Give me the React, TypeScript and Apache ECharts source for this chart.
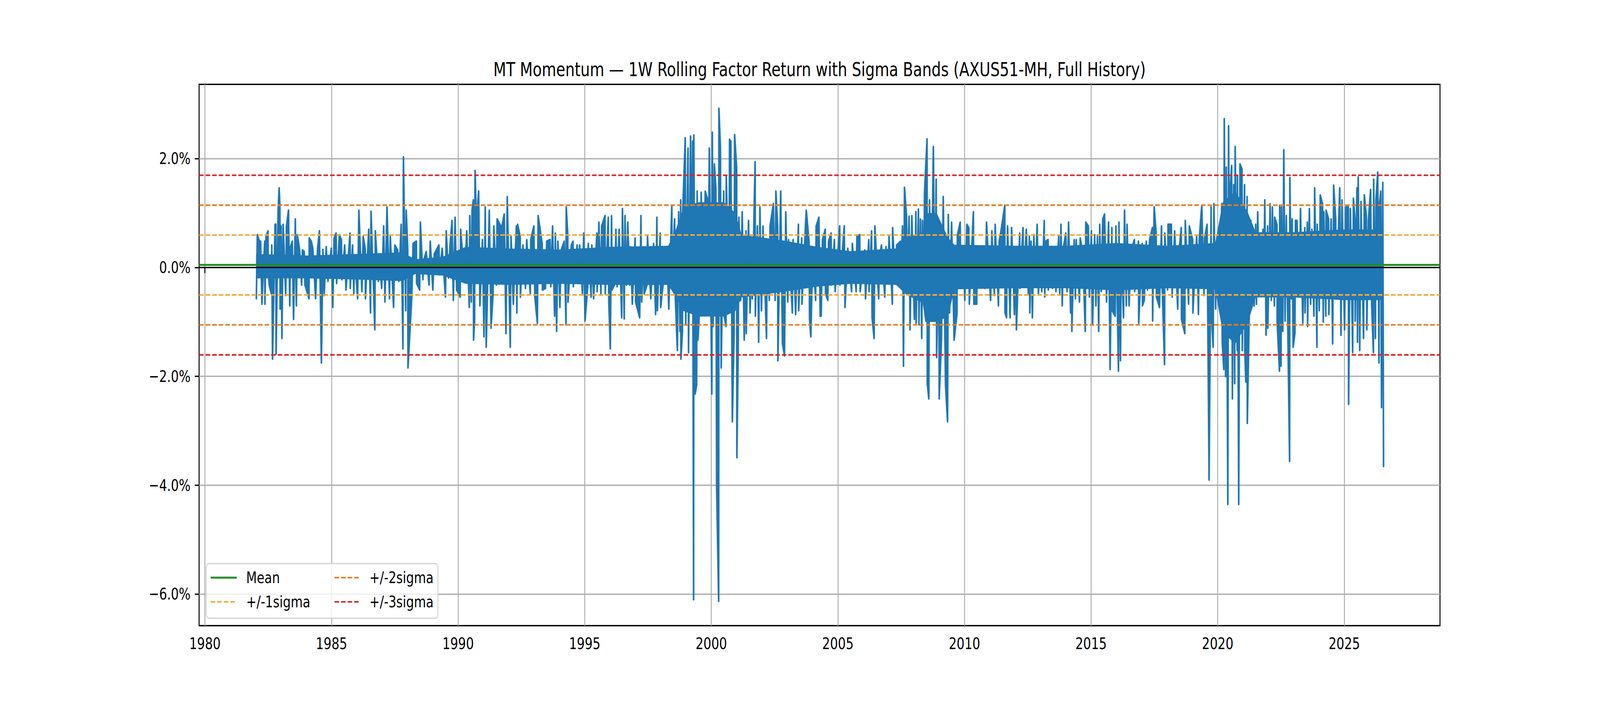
import React, { useEffect, useRef } from "react";
import * as echarts from "echarts";

// ---------- text ----------
const TITLE =
  "MT Momentum \u2014 1W Rolling Factor Return with Sigma Bands (AXUS51-MH, Full History)";
const SERIES_NAME = "1W Rolling Factor Return";
const LEGEND_LABELS = ["Mean", "+/-1sigma", "+/-2sigma", "+/-3sigma"];

// ---------- axes ----------
const X_TICKS = [1980, 1985, 1990, 1995, 2000, 2005, 2010, 2015, 2020, 2025];
const Y_TICKS = [-6, -4, -2, 0, 2];
const X_MIN = 1979.77;
const X_MAX = 2028.78;
const Y_MIN = -6.58;
const Y_MAX = 3.365;

// ---------- reference levels (%) ----------
const MEAN = 0.048;
const SIGMA1 = [0.597, -0.503];
const SIGMA2 = [1.145, -1.053];
const SIGMA3 = [1.695, -1.605];

// ---------- 1W rolling return: local highs / lows [year, %] ----------
const PEAKS_1982_1988 = [
  [1982.07, 0.6], [1982.15, 0.48], [1982.2, 0.48], [1982.36, 0.48], [1982.41, 0.57], [1982.49, 0.67],
  [1982.64, 0.41], [1982.77, 0.79], [1982.8, 0.79], [1982.89, 1.05], [1982.93, 1.46], [1982.96, 1.14],
  [1983.01, 0.76], [1983.09, 0.79], [1983.22, 0.76], [1983.3, 1.05], [1983.38, 0.38], [1983.45, 0.48],
  [1983.57, 0.89], [1983.65, 0.6], [1983.74, 0.32], [1983.85, 0.32], [1983.92, 0.29], [1984.12, 0.54],
  [1984.2, 0.48], [1984.26, 0.35], [1984.45, 0.35], [1984.52, 0.67], [1984.66, 0.33], [1984.79, 0.38],
  [1984.99, 0.35], [1985.1, 0.54], [1985.18, 0.63], [1985.31, 0.6], [1985.39, 0.51], [1985.52, 0.41],
  [1985.73, 0.63], [1985.83, 0.41], [1985.91, 0.22], [1986.08, 1.05], [1986.25, 0.57], [1986.33, 0.35],
  [1986.47, 0.7], [1986.56, 1.03], [1986.73, 0.67], [1986.88, 0.22], [1987.06, 0.76], [1987.19, 1.11],
  [1987.32, 0.57], [1987.5, 0.41], [1987.61, 0.32], [1987.75, 0.79], [1987.84, 2.03], [1987.95, 1.05],
];
const TROUGHS_1982_1988 = [
  [1982.03, -0.57], [1982.25, -0.67], [1982.37, -0.67], [1982.5, -0.1], [1982.54, -0.32], [1982.62, -0.48],
  [1982.67, -1.68], [1982.81, -1.59], [1982.97, -0.76], [1983.04, -1.3], [1983.19, -0.51], [1983.35, -0.7],
  [1983.5, -0.95], [1983.61, -0.7], [1983.82, -0.32], [1983.95, -0.32], [1984.11, -0.57], [1984.37, -0.57],
  [1984.6, -1.75], [1984.71, -0.51], [1984.86, -0.25], [1985.05, -0.73], [1985.2, -0.29], [1985.41, -0.22],
  [1985.57, -0.41], [1985.74, -0.38], [1985.88, -0.48], [1986.03, -0.57], [1986.2, -0.44], [1986.34, -0.57],
  [1986.54, -0.83], [1986.71, -1.14], [1986.85, -0.25], [1986.98, -0.38], [1987.11, -0.63], [1987.29, -0.57],
  [1987.45, -0.73], [1987.66, -0.25], [1987.82, -1.49], [1987.93, -0.79],
];

const PEAKS_1988_1996 = [
  [1988.01, 0.32], [1988.22, 0.44], [1988.35, 0.48], [1988.51, 0.83], [1988.64, 0.13], [1988.74, 0.29],
  [1988.9, 0.48], [1989.06, 0.25], [1989.24, 0.41], [1989.37, 0.35], [1989.53, 0.67], [1989.68, 0.41],
  [1989.76, 0.86], [1989.88, 0.92], [1990.1, 0.7], [1990.34, 0.67], [1990.46, 0.95], [1990.55, 1.05],
  [1990.6, 1.24], [1990.67, 1.78], [1990.72, 0.83], [1990.81, 1.4], [1990.96, 0.51], [1991.07, 1.11],
  [1991.23, 1.05], [1991.41, 0.76], [1991.54, 0.89], [1991.72, 0.73], [1991.82, 0.98], [1991.94, 1.3],
  [1992.09, 0.57], [1992.3, 0.76], [1992.35, 0.79], [1992.45, 0.57], [1992.56, 0.41], [1992.71, 0.51],
  [1992.87, 0.51], [1992.99, 0.76], [1993.16, 0.95], [1993.32, 0.44], [1993.5, 0.48], [1993.63, 0.51],
  [1993.73, 0.76], [1993.84, 0.63], [1993.94, 0.48], [1994.07, 0.32], [1994.19, 0.48], [1994.27, 1.11],
  [1994.33, 0.6], [1994.47, 0.41], [1994.54, 0.48], [1994.7, 0.41], [1994.8, 0.41], [1994.96, 0.63],
  [1995.14, 0.44], [1995.28, 0.41], [1995.48, 0.63], [1995.56, 0.83], [1995.67, 0.76], [1995.8, 0.95],
  [1995.93, 0.92], [1996.06, 0.95],
];
const TROUGHS_1988_1996 = [
  [1988.02, -1.84], [1988.17, -0.54], [1988.36, -0.29], [1988.48, -0.41], [1988.61, -0.22], [1988.85, -0.32],
  [1989.0, -0.41], [1989.27, -0.13], [1989.5, -0.54], [1989.62, -0.19], [1989.81, -0.6], [1989.94, -0.41],
  [1990.08, -0.54], [1990.26, -0.25], [1990.44, -0.73], [1990.52, -0.63], [1990.61, -1.33], [1990.65, -0.98],
  [1990.86, -0.7], [1991.02, -1.27], [1991.11, -1.46], [1991.3, -1.11], [1991.38, -0.48], [1991.51, -0.32],
  [1991.89, -1.21], [1992.06, -1.46], [1992.18, -0.67], [1992.32, -0.83], [1992.46, -0.54], [1992.66, -0.38],
  [1992.85, -0.48], [1993.03, -0.54], [1993.13, -1.02], [1993.33, -0.41], [1993.45, -0.38], [1993.66, -0.35],
  [1993.81, -0.89], [1993.89, -1.17], [1994.02, -0.73], [1994.26, -1.05], [1994.34, -0.63], [1994.55, -0.35],
  [1994.75, -0.29], [1994.91, -0.48], [1995.01, -0.98], [1995.12, -0.35], [1995.25, -0.54], [1995.35, -0.57],
  [1995.49, -0.44], [1995.64, -0.48], [1995.81, -0.48], [1995.95, -0.6], [1996.01, -1.49], [1996.08, -0.41],
];

const PEAKS_1996_2004 = [
  [1996.23, 0.7], [1996.36, 0.7], [1996.49, 1.08], [1996.59, 0.95], [1996.7, 0.83], [1996.8, 0.38],
  [1996.99, 0.54], [1997.22, 0.95], [1997.33, 0.29], [1997.48, 0.57], [1997.72, 0.44], [1997.85, 0.92],
  [1997.98, 0.63], [1998.14, 0.29], [1998.24, 0.38], [1998.44, 1.14], [1998.55, 0.89], [1998.71, 1.02],
  [1998.79, 1.24], [1998.87, 1.02], [1998.97, 2.38], [1999.08, 2.19], [1999.18, 2.41], [1999.26, 2.32],
  [1999.31, 2.43], [1999.44, 1.4], [1999.6, 1.38], [1999.76, 1.4], [1999.86, 1.24], [1999.92, 2.19],
  [2000.04, 2.48], [2000.12, 1.9], [2000.18, 1.46], [2000.3, 2.92], [2000.36, 2.19], [2000.49, 1.4],
  [2000.59, 1.68], [2000.72, 2.35], [2000.77, 2.32], [2000.92, 2.44], [2001.0, 1.84], [2001.09, 0.92],
  [2001.22, 1.02], [2001.37, 0.67], [2001.47, 0.86], [2001.61, 0.41], [2001.73, 1.94], [2001.82, 0.76],
  [2001.92, 1.11], [2002.04, 0.76], [2002.21, 0.48], [2002.32, 0.76], [2002.45, 1.17], [2002.55, 1.4],
  [2002.62, 0.76], [2002.74, 1.4], [2002.94, 1.02], [2003.05, 0.51], [2003.23, 0.51], [2003.44, 0.79],
  [2003.57, 0.54], [2003.72, 0.79], [2003.75, 1.05], [2003.86, 0.48], [2004.01, 0.32], [2004.14, 0.76],
  [2004.25, 0.92],
];
const TROUGHS_1996_2004 = [
  [1996.2, -0.29], [1996.28, -0.35], [1996.46, -0.92], [1996.56, -0.94], [1996.65, -0.32], [1996.78, -0.32],
  [1996.88, -0.67], [1997.01, -0.63], [1997.17, -0.92], [1997.25, -0.63], [1997.35, -0.48], [1997.46, -0.32],
  [1997.61, -0.57], [1997.8, -0.86], [1997.87, -0.79], [1998.0, -0.73], [1998.11, -0.25], [1998.32, -0.76],
  [1998.45, -0.13], [1998.58, -0.57], [1998.66, -1.52], [1998.76, -1.17], [1998.8, -1.68], [1998.86, -1.17],
  [1998.99, -1.05], [1999.1, -1.56], [1999.2, -0.7], [1999.3, -6.1], [1999.36, -2.32], [1999.42, -2.16],
  [1999.47, -1.33], [1999.57, -0.48], [1999.7, -0.48], [1999.88, -0.63], [2000.02, -2.32], [2000.07, -1.08],
  [2000.21, -4.03], [2000.29, -6.13], [2000.39, -1.84], [2000.5, -0.86], [2000.58, -1.08], [2000.7, -0.63],
  [2000.83, -2.83], [2000.9, -1.21], [2001.01, -3.49], [2001.06, -1.56], [2001.16, -0.6], [2001.3, -1.33],
  [2001.38, -1.21], [2001.53, -0.83], [2001.62, -0.57], [2001.74, -0.89], [2001.87, -1.37], [2001.98, -0.79],
  [2002.18, -1.3], [2002.29, -0.6], [2002.52, -0.6], [2002.63, -1.71], [2002.81, -1.4], [2002.89, -1.62],
  [2003.02, -0.63], [2003.2, -0.83], [2003.33, -0.86], [2003.45, -0.79], [2003.58, -0.67], [2003.88, -0.95],
  [2003.93, -1.27], [2004.12, -0.6], [2004.3, -0.89],
];

const PEAKS_2004_2012 = [
  [2004.39, 0.51], [2004.5, 0.7], [2004.63, 0.48], [2004.73, 0.63], [2004.86, 0.51], [2005.07, 0.76],
  [2005.25, 0.76], [2005.39, 0.35], [2005.57, 0.44], [2005.75, 0.57], [2005.86, 0.6], [2006.06, 0.32],
  [2006.22, 0.51], [2006.33, 0.67], [2006.46, 0.76], [2006.64, 0.19], [2006.72, 0.41], [2006.9, 0.38],
  [2007.02, 0.57], [2007.16, 0.73], [2007.32, 0.41], [2007.47, 0.48], [2007.55, 0.76], [2007.63, 1.47],
  [2007.71, 0.95], [2007.81, 0.94], [2007.92, 0.95], [2008.08, 1.02], [2008.18, 1.07], [2008.26, 0.89],
  [2008.34, 0.86], [2008.42, 1.37], [2008.52, 2.36], [2008.62, 1.24], [2008.77, 2.22], [2008.88, 1.62],
  [2008.99, 0.44], [2009.16, 1.3], [2009.36, 0.97], [2009.49, 0.83], [2009.72, 0.6], [2009.83, 0.83],
  [2009.96, 0.19], [2010.09, 0.79], [2010.17, 0.73], [2010.35, 1.02], [2010.51, 0.25], [2010.64, 0.35],
  [2010.87, 0.83], [2011.08, 0.67], [2011.21, 0.79], [2011.37, 0.48], [2011.45, 0.7], [2011.59, 1.14],
  [2011.7, 0.76], [2011.86, 0.73], [2012.02, 0.32], [2012.18, 0.63], [2012.31, 0.73], [2012.44, 0.7],
];
const TROUGHS_2004_2012 = [
  [2004.34, -0.89], [2004.51, -0.48], [2004.6, -0.6], [2004.74, -0.32], [2004.89, -0.44], [2005.08, -0.32],
  [2005.28, -0.73], [2005.54, -0.44], [2005.72, -0.44], [2005.88, -0.44], [2006.09, -0.57], [2006.23, -0.44],
  [2006.35, -0.92], [2006.43, -1.3], [2006.61, -0.57], [2006.85, -0.54], [2006.98, -0.1], [2007.15, -0.67],
  [2007.27, -0.29], [2007.48, -0.29], [2007.59, -1.81], [2007.74, -0.25], [2007.85, -1.14], [2008.02, -0.95],
  [2008.09, -1.02], [2008.2, -1.05], [2008.31, -1.3], [2008.39, -0.7], [2008.53, -2.13], [2008.59, -2.41],
  [2008.68, -0.95], [2008.83, -0.98], [2008.9, -1.65], [2009.0, -2.41], [2009.09, -1.33], [2009.25, -2.16],
  [2009.33, -2.83], [2009.41, -0.83], [2009.59, -1.33], [2009.7, -0.86], [2009.85, -0.38], [2010.01, -0.6],
  [2010.19, -0.67], [2010.37, -0.67], [2010.48, -0.67], [2010.66, -0.35], [2010.82, -0.38], [2011.03, -0.6],
  [2011.18, -0.51], [2011.34, -0.7], [2011.6, -0.83], [2011.66, -0.92], [2011.8, -0.92], [2011.97, -0.86],
  [2012.05, -1.14], [2012.19, -0.38], [2012.33, -0.32], [2012.52, -0.48],
];

const PEAKS_2012_2020 = [
  [2012.56, 0.57], [2012.63, 0.48], [2012.74, 0.6], [2012.87, 0.79], [2013.0, 0.25], [2013.15, 0.86],
  [2013.21, 0.48], [2013.3, 0.51], [2013.44, 0.38], [2013.6, 0.38], [2013.72, 0.57], [2013.81, 0.79],
  [2013.91, 0.38], [2014.0, 0.63], [2014.11, 0.83], [2014.23, 0.32], [2014.33, 0.51], [2014.41, 0.51],
  [2014.57, 0.54], [2014.67, 0.25], [2014.79, 0.83], [2014.89, 0.76], [2015.01, 0.67], [2015.14, 0.6],
  [2015.25, 0.57], [2015.34, 0.79], [2015.46, 0.89], [2015.53, 0.98], [2015.69, 0.83], [2015.82, 0.73],
  [2015.98, 0.76], [2016.1, 0.83], [2016.19, 0.32], [2016.32, 1.05], [2016.42, 0.79], [2016.58, 0.32],
  [2016.71, 0.51], [2016.87, 0.48], [2017.02, 0.44], [2017.18, 0.48], [2017.31, 0.51], [2017.42, 0.73],
  [2017.49, 1.11], [2017.57, 0.63], [2017.78, 0.76], [2017.91, 0.63], [2018.04, 0.79], [2018.17, 0.79],
  [2018.3, 0.67], [2018.46, 0.25], [2018.56, 0.73], [2018.72, 0.86], [2018.88, 0.76], [2019.01, 0.51],
  [2019.17, 0.57], [2019.27, 0.51], [2019.37, 1.14], [2019.48, 0.54], [2019.58, 0.79], [2019.74, 1.11],
  [2019.85, 1.17], [2019.94, 0.13], [2020.05, 0.67], [2020.16, 1.17], [2020.26, 2.73], [2020.34, 1.84],
  [2020.43, 2.6], [2020.5, 1.49], [2020.55, 1.87], [2020.63, 1.52], [2020.69, 2.22],
];
const TROUGHS_2012_2020 = [
  [2012.58, -0.83], [2012.68, -0.92], [2012.79, -0.29], [2012.92, -0.48], [2013.05, -0.44], [2013.17, -0.54],
  [2013.31, -0.41], [2013.47, -0.38], [2013.61, -0.44], [2013.76, -0.48], [2013.86, -0.7], [2014.05, -0.44],
  [2014.19, -0.83], [2014.24, -1.17], [2014.38, -0.57], [2014.54, -0.63], [2014.77, -1.17], [2014.93, -0.54],
  [2015.06, -1.05], [2015.19, -0.7], [2015.3, -1.17], [2015.4, -0.44], [2015.61, -0.63], [2015.75, -1.87],
  [2015.83, -0.79], [2015.95, -0.89], [2016.08, -1.9], [2016.16, -1.71], [2016.28, -0.92], [2016.39, -0.7],
  [2016.5, -0.7], [2016.72, -0.44], [2016.88, -1.02], [2017.03, -0.7], [2017.1, -0.6], [2017.23, -0.41],
  [2017.43, -0.98], [2017.58, -0.54], [2017.7, -0.73], [2017.81, -0.38], [2017.9, -1.78], [2018.02, -0.41],
  [2018.2, -0.54], [2018.42, -0.76], [2018.57, -0.95], [2018.7, -1.21], [2018.85, -0.67], [2019.02, -0.83],
  [2019.24, -0.86], [2019.46, -0.51], [2019.66, -3.9], [2019.75, -0.86], [2019.82, -1.46], [2019.92, -0.76],
  [2020.08, -0.63], [2020.18, -1.37], [2020.24, -1.87], [2020.31, -2.0], [2020.4, -4.35], [2020.47, -1.21],
  [2020.58, -2.41], [2020.67, -2.13],
];

const PEAKS_2020_2026 = [
  [2020.78, 1.68], [2020.88, 1.9], [2020.96, 1.81], [2021.06, 1.52], [2021.16, 1.3], [2021.31, 0.86],
  [2021.4, 0.63], [2021.5, 0.79], [2021.58, 1.02], [2021.69, 0.6], [2021.79, 0.7], [2021.86, 1.24],
  [2021.97, 0.76], [2022.07, 1.17], [2022.16, 1.11], [2022.25, 0.92], [2022.34, 0.79], [2022.45, 1.14],
  [2022.52, 1.11], [2022.61, 2.16], [2022.71, 0.95], [2022.85, 1.65], [2022.94, 0.89], [2023.07, 0.86],
  [2023.13, 0.86], [2023.27, 1.08], [2023.44, 0.73], [2023.54, 0.83], [2023.62, 1.08], [2023.72, 0.7],
  [2023.83, 1.46], [2023.93, 0.79], [2024.05, 1.33], [2024.14, 1.17], [2024.19, 1.02], [2024.28, 1.05],
  [2024.38, 0.89], [2024.48, 0.89], [2024.58, 1.51], [2024.66, 0.89], [2024.82, 1.46], [2024.91, 1.24],
  [2025.06, 1.11], [2025.16, 1.11], [2025.24, 1.08], [2025.36, 1.27], [2025.42, 0.89], [2025.5, 1.46],
  [2025.55, 1.66], [2025.66, 1.21], [2025.79, 1.33], [2025.87, 0.95], [2025.95, 0.86], [2026.04, 1.43],
  [2026.16, 1.62], [2026.25, 1.24], [2026.32, 1.75], [2026.39, 1.17], [2026.44, 1.4], [2026.52, 1.56],
];
const TROUGHS_2020_2026 = [
  [2020.77, -1.52], [2020.83, -4.35], [2020.97, -1.52], [2021.07, -1.52], [2021.11, -2.1], [2021.17, -2.86],
  [2021.22, -1.52], [2021.32, -0.44], [2021.44, -0.7], [2021.53, -0.67], [2021.63, -0.19], [2021.71, -0.48],
  [2021.82, -0.38], [2021.91, -1.24], [2021.98, -1.11], [2022.12, -0.6], [2022.24, -0.7], [2022.35, -1.02],
  [2022.44, -1.9], [2022.5, -1.81], [2022.57, -1.17], [2022.66, -0.98], [2022.84, -3.56], [2022.91, -0.57],
  [2022.98, -1.46], [2023.05, -1.21], [2023.23, -0.44], [2023.36, -1.02], [2023.45, -0.83], [2023.55, -1.08],
  [2023.67, -0.67], [2023.8, -0.89], [2023.92, -1.46], [2024.01, -0.79], [2024.17, -1.0], [2024.27, -0.89],
  [2024.39, -0.86], [2024.54, -1.4], [2024.69, -0.57], [2024.87, -1.24], [2025.01, -1.14], [2025.17, -2.51],
  [2025.33, -1.56], [2025.43, -0.98], [2025.52, -1.37], [2025.61, -1.52], [2025.76, -1.3], [2025.89, -1.14],
  [2026.08, -0.67], [2026.15, -1.56], [2026.23, -1.3], [2026.37, -1.75], [2026.47, -2.57], [2026.55, -3.65],
];

// ---------- densely-filled core of the series ----------
const CORE_YEARS = [
  1982.02, 1984, 1986, 1987.8, 1988.3, 1989.4, 1990.3, 1992, 1994, 1996, 1998.3, 1998.6, 1998.9, 1999.5,
  2000.5, 2000.95, 2001.2, 2002.8, 2004.2, 2005.5, 2007.3, 2007.7, 2008.35, 2008.45, 2008.9, 2009.35,
  2009.6, 2012, 2014, 2016, 2018, 2019.9, 2020.2, 2020.7, 2021.2, 2021.5, 2023, 2025, 2026.55,
];
const CORE_UPPER = [
  0.25, 0.22, 0.25, 0.28, 0.15, 0.2, 0.38, 0.35, 0.33, 0.38, 0.4, 0.7, 1.1, 1.2, 1.2, 1.0, 0.6, 0.5, 0.38,
  0.3, 0.35, 0.55, 0.65, 1.0, 1.0, 0.55, 0.42, 0.4, 0.4, 0.45, 0.4, 0.45, 1.2, 1.4, 1.0, 0.65, 0.65, 0.7,
  0.7,
];
const CORE_LOWER = [
  -0.2, -0.2, -0.22, -0.25, -0.12, -0.15, -0.3, -0.32, -0.3, -0.32, -0.32, -0.55, -0.8, -0.9, -0.9, -0.8,
  -0.55, -0.45, -0.35, -0.3, -0.32, -0.5, -0.65, -1.0, -1.0, -0.9, -0.4, -0.38, -0.38, -0.42, -0.38, -0.4,
  -1.2, -1.4, -1.0, -0.55, -0.55, -0.6, -0.6,
];

// ---------- colours ----------
const BLUE = "#1f77b4";
const GREEN = "#228b22";
const ORANGE1 = "#f4a93b";
const ORANGE2 = "#e67e22";
const RED = "#d62728";
const LEGEND_COLORS = [GREEN, ORANGE1, ORANGE2, RED];
const FONT = "DejaVu Sans";
const FS = 41.67;
const DASH = [15.4, 6.7];

// design canvas (matches the reference)
const W = 5400;
const H = 1800;

function hline(name: string, value: number, color: string, width: number, dashed: boolean, z: number) {
  return {
    name,
    type: "line",
    data: [
      [X_MIN, value],
      [X_MAX, value],
    ],
    symbol: "none",
    silent: true,
    z,
    lineStyle: { color, width, type: dashed ? DASH : "solid", cap: "butt" },
    itemStyle: { color },
  };
}

function fmtPct(v: number) {
  const s = Math.abs(v).toFixed(1) + "%";
  return v < 0 ? "\u2212" + s : s;
}

export default function App() {
  const ref = useRef<HTMLDivElement>(null);
  const vw = typeof window !== "undefined" ? window.innerWidth : W;
  const vh = typeof window !== "undefined" ? window.innerHeight : H;
  const sx = vw / W;
  const sy = vh / H;

  useEffect(() => {
    if (!ref.current) return;
    const chart = echarts.init(ref.current, undefined, { renderer: "svg", width: W, height: H });

    const spikes = [
      ...PEAKS_1982_1988, ...TROUGHS_1982_1988,
      ...PEAKS_1988_1996, ...TROUGHS_1988_1996,
      ...PEAKS_1996_2004, ...TROUGHS_1996_2004,
      ...PEAKS_2004_2012, ...TROUGHS_2004_2012,
      ...PEAKS_2012_2020, ...TROUGHS_2012_2020,
      ...PEAKS_2020_2026, ...TROUGHS_2020_2026,
    ].sort((a, b) => a[0] - b[0]);

    const coreUp = CORE_YEARS.map((y, i) => [y, CORE_UPPER[i]]);
    const coreDown = CORE_YEARS.map((y, i) => [y, CORE_LOWER[i]]);

    const textStyle = { fontFamily: FONT, fontSize: FS, color: "#000" };

    // legend (matplotlib-style, 2 columns, lower left)
    const legendRows = [1479, 1541, 1479, 1541];
    const legendHandleX = [711, 711, 1129, 1129];
    const legendTextX = [831, 831, 1247, 1247];
    const legendEls: any[] = [
      {
        type: "rect",
        z: 20,
        silent: true,
        shape: { x: 696, y: 1443, width: 782, height: 140, r: 10 },
        style: { fill: "rgba(255,255,255,0.8)", stroke: "rgba(204,204,204,0.8)", lineWidth: 3.3 },
      },
    ];
    LEGEND_LABELS.forEach((label, i) => {
      const dashed = i > 0;
      legendEls.push({
        type: "line",
        z: 21,
        silent: true,
        shape: { x1: legendHandleX[i], y1: legendRows[i], x2: legendHandleX[i] + 88, y2: legendRows[i] },
        style: {
          stroke: LEGEND_COLORS[i],
          lineWidth: dashed ? 4.17 : 5,
          lineDash: dashed ? DASH : null,
          lineCap: "butt",
        },
      });
      legendEls.push({
        type: "text",
        z: 21,
        silent: true,
        x: legendTextX[i],
        y: legendRows[i],
        style: {
          text: label,
          fill: "#000",
          font: `${FS}px "${FONT}"`,
          fontFamily: FONT,
          fontSize: FS,
          align: "left",
          verticalAlign: "middle",
          textAlign: "left",
          textVerticalAlign: "middle",
        },
      });
    });

    const option = {
      animation: false,
      backgroundColor: "#ffffff",
      title: {
        text: TITLE,
        left: 2766,
        top: 153,
        textAlign: "center",
        padding: 0,
        textStyle: { fontFamily: FONT, fontSize: 50, fontWeight: "normal", color: "#000" },
      },
      grid: {
        left: 672,
        top: 216,
        right: 540,
        bottom: 198,
        show: true,
        borderColor: "#000",
        borderWidth: 3.3,
        backgroundColor: "transparent",
        containLabel: false,
      },
      graphic: { elements: legendEls },
      xAxis: {
        type: "value",
        min: X_MIN,
        max: X_MAX,
        axisLine: { show: false },
        axisTick: {
          show: true,
          inside: false,
          length: 14.6,
          customValues: X_TICKS,
          lineStyle: { color: "#000", width: 3.3 },
        },
        axisLabel: {
          customValues: X_TICKS,
          formatter: (v: number) => String(Math.round(v)),
          margin: 25,
          ...textStyle,
          lineHeight: 42,
        },
        splitLine: { show: true, lineStyle: { color: "#b0b0b0", width: 3.3 } },
      },
      yAxis: {
        type: "value",
        min: Y_MIN,
        max: Y_MAX,
        axisLine: { show: false },
        axisTick: {
          show: true,
          inside: false,
          length: 14.6,
          customValues: Y_TICKS,
          lineStyle: { color: "#000", width: 3.3 },
        },
        axisLabel: {
          customValues: Y_TICKS,
          formatter: (v: number) => fmtPct(v),
          margin: 29,
          ...textStyle,
        },
        splitLine: { show: true, lineStyle: { color: "#b0b0b0", width: 3.3 } },
      },
      series: [
        {
          name: SERIES_NAME + " (dense core, upper)",
          type: "line",
          data: coreUp,
          symbol: "none",
          silent: true,
          z: 2,
          lineStyle: { width: 0, color: BLUE },
          areaStyle: { color: BLUE, opacity: 1, origin: "auto" },
        },
        {
          name: SERIES_NAME + " (dense core, lower)",
          type: "line",
          data: coreDown,
          symbol: "none",
          silent: true,
          z: 2,
          lineStyle: { width: 0, color: BLUE },
          areaStyle: { color: BLUE, opacity: 1, origin: "auto" },
        },
        {
          name: SERIES_NAME,
          type: "line",
          data: spikes,
          symbol: "none",
          silent: true,
          z: 3,
          lineStyle: { color: BLUE, width: 5.5, join: "round", cap: "round" },
          areaStyle: { color: BLUE, opacity: 1, origin: "auto" },
        },
        hline("Zero", 0, "#000", 3.3, false, 4),
        hline("Mean", MEAN, GREEN, 5, false, 5),
        hline("+/-1sigma", SIGMA1[0], ORANGE1, 4.17, true, 5),
        hline("+/-1sigma", SIGMA1[1], ORANGE1, 4.17, true, 5),
        hline("+/-2sigma", SIGMA2[0], ORANGE2, 4.17, true, 5),
        hline("+/-2sigma", SIGMA2[1], ORANGE2, 4.17, true, 5),
        hline("+/-3sigma", SIGMA3[0], RED, 4.17, true, 5),
        hline("+/-3sigma", SIGMA3[1], RED, 4.17, true, 5),
      ],
    };

    chart.setOption(option as any);
    return () => chart.dispose();
  }, []);

  return (
    <div
      style={{
        position: "fixed",
        left: 0,
        top: 0,
        width: vw,
        height: vh,
        overflow: "hidden",
        background: "#fff",
      }}
    >
      <div
        ref={ref}
        style={{
          width: W,
          height: H,
          transformOrigin: "0 0",
          transform: `scale(${sx}, ${sy})`,
          background: "#fff",
        }}
      />
    </div>
  );
}
